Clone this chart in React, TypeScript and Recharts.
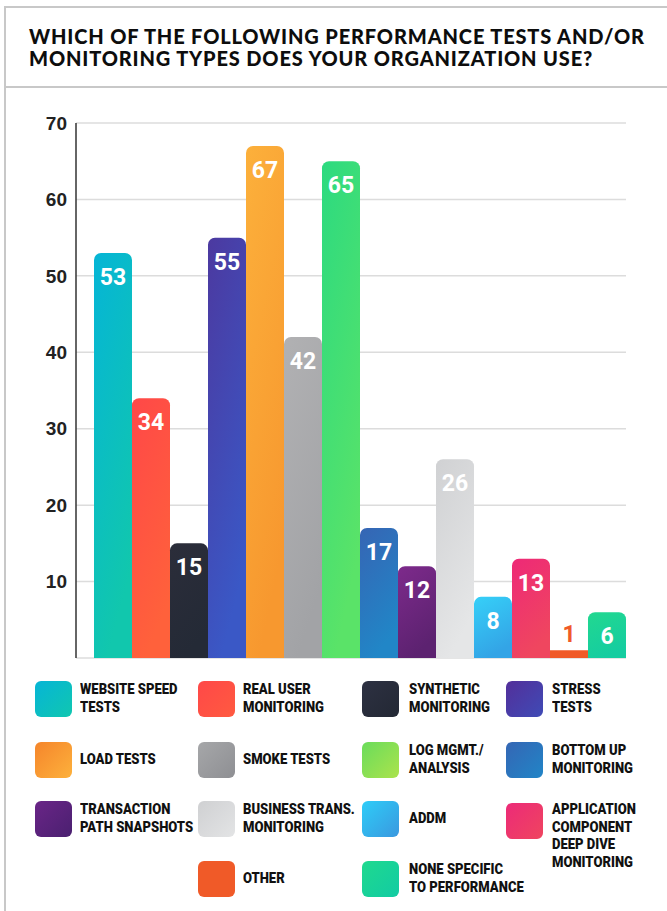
import React from "react";
import { BarChart, Bar, XAxis, YAxis, CartesianGrid, Cell, LabelList, Rectangle } from "recharts";

const categories = [
  "WEBSITE SPEED TESTS",
  "REAL USER MONITORING",
  "SYNTHETIC MONITORING",
  "STRESS TESTS",
  "LOAD TESTS",
  "SMOKE TESTS",
  "LOG MGMT./ ANALYSIS",
  "BOTTOM UP MONITORING",
  "TRANSACTION PATH SNAPSHOTS",
  "BUSINESS TRANS. MONITORING",
  "ADDM",
  "APPLICATION COMPONENT DEEP DIVE MONITORING",
  "OTHER",
  "NONE SPECIFIC TO PERFORMANCE",
];
const values = [53, 34, 15, 55, 67, 42, 65, 17, 12, 26, 8, 13, 1, 6];
const yTicks = [10, 20, 30, 40, 50, 60, 70];
const title = ["WHICH OF THE FOLLOWING PERFORMANCE TESTS AND/OR", "MONITORING TYPES DOES YOUR ORGANIZATION USE?"];

// bar gradients [top, bottom]
const barColors: [string, string][] = [
  ["#05b5d6", "#11c7ad"],
  ["#ff4848", "#ff613b"],
  ["#2b2d3a", "#242a36"],
  ["#4c39a0", "#3a58c6"],
  ["#fcb03b", "#f7982f"],
  ["#b1b1b3", "#a2a3a6"],
  ["#2cda80", "#5ae368"],
  ["#3665b4", "#2186c7"],
  ["#7d2a8b", "#5c2270"],
  ["#d0d1d3", "#e5e6e7"],
  ["#36d0f8", "#33a4e6"],
  ["#ee2977", "#ef465f"],
  ["#f05a28", "#f05a28"],
  ["#22d890", "#15cda0"],
];
// legend swatch gradients [top-left, bottom-right]
const legendColors: [string, string][] = [
  ["#06b5d6", "#10c7b0"],
  ["#ff4848", "#ff5a40"],
  ["#2d3142", "#232834"],
  ["#532f9a", "#3f4bb6"],
  ["#f5852b", "#fdb13c"],
  ["#a6a7a9", "#8e8f93"],
  ["#6adc5b", "#abe34c"],
  ["#3566b4", "#2185c7"],
  ["#6a2587", "#4a2070"],
  ["#cfd0d2", "#e3e4e5"],
  ["#2ecdf8", "#3a98df"],
  ["#ec2a78", "#ef455f"],
  ["#f05a28", "#f05a28"],
  ["#1fd98f", "#12cba3"],
];
// legend grid placement [col,row]
const legendPlace: [number, number][] = [
  [0, 0], [1, 0], [2, 0], [3, 0],
  [0, 1], [1, 1], [2, 1], [3, 1],
  [0, 2], [1, 2], [2, 2], [3, 2],
  [1, 3], [2, 3],
];
const legendLines: string[][] = [
  ["WEBSITE SPEED", "TESTS"],
  ["REAL USER", "MONITORING"],
  ["SYNTHETIC", "MONITORING"],
  ["STRESS", "TESTS"],
  ["LOAD TESTS"],
  ["SMOKE TESTS"],
  ["LOG MGMT./", "ANALYSIS"],
  ["BOTTOM UP", "MONITORING"],
  ["TRANSACTION", "PATH SNAPSHOTS"],
  ["BUSINESS TRANS.", "MONITORING"],
  ["ADDM"],
  ["APPLICATION", "COMPONENT", "DEEP DIVE", "MONITORING"],
  ["OTHER"],
  ["NONE SPECIFIC", "TO PERFORMANCE"],
];

const data = categories.map((c, i) => ({ name: c, value: values[i] }));

const colSwatchX = [35, 198, 362, 506];
const colTextX = [80, 243, 409, 552];
const rowY = [681, 742, 801, 861];

const renderLabel = (props: any) => {
  const { x, y, width, value } = props;
  const cx = Number(x) + Number(width) / 2;
  if (value < 5) {
    return (
      <text x={cx} y={Number(y) - 8} textAnchor="middle" fill="#f05a28"
        style={{ fontFamily: "Roboto, sans-serif", fontWeight: 700, fontSize: 23 }}>
        {value}
      </text>
    );
  }
  return (
    <text x={cx} y={Number(y) + 32} textAnchor="middle" fill="#ffffff"
      style={{ fontFamily: "Roboto, sans-serif", fontWeight: 700, fontSize: 23 }}>
      {value}
    </text>
  );
};

const renderShape = (props: any) => {
  const v = props.payload ? props.payload.value : 10;
  return <Rectangle {...props} radius={v < 3 ? 0 : [7, 7, 0, 0]} />;
};

export default function App() {
  return (
    <div style={{ position: "absolute", left: 0, top: 0, width: 667, height: 911, background: "#fff", overflow: "hidden" }}>
      {/* frame */}
      <div style={{ position: "absolute", left: 4, top: 6, width: 663, height: 2, background: "#c8c8c8" }} />
      <div style={{ position: "absolute", left: 4, top: 86, width: 663, height: 2, background: "#c8c8c8" }} />
      <div style={{ position: "absolute", left: 4, top: 6, width: 2, height: 905, background: "#c8c8c8" }} />
      {/* title */}
      <div style={{ position: "absolute", left: 29, top: 25, fontFamily: "Lato, sans-serif", fontWeight: 900, fontSize: 20, lineHeight: "22px", color: "#0d0d0d", whiteSpace: "nowrap", letterSpacing: 0.85 }}>
        {title.map((t, i) => <div key={i}>{t}</div>)}
      </div>
      <div style={{ position: "absolute", left: 0, top: 0 }}>
        <BarChart width={667} height={680} data={data} margin={{ top: 123, right: 41, bottom: 22, left: 0 }} barCategoryGap={0}>
          <defs>
            {barColors.map((c, i) => (
              <linearGradient key={i} id={`bg${i}`} x1="0" y1="0" x2="0.35" y2="1">
                <stop offset="0%" stopColor={c[0]} />
                <stop offset="100%" stopColor={c[1]} />
              </linearGradient>
            ))}
          </defs>
          <CartesianGrid vertical={false} stroke="#dcdcdc" strokeWidth={1.5} />
          <XAxis dataKey="name" tick={false} tickLine={false} height={0} padding={{ left: 18, right: 0 }} axisLine={{ stroke: "#555", strokeWidth: 1.5 }} />
          <YAxis width={76} domain={[0, 70]} ticks={yTicks} tickLine={false} tickSize={0} tickMargin={9}
            axisLine={{ stroke: "#333", strokeWidth: 1.5 }}
            tick={{ fill: "#222", fontSize: 19, fontWeight: 700, fontFamily: "'Liberation Sans', Arial, sans-serif" }} interval={0} />
          <Bar dataKey="value" isAnimationActive={false} shape={renderShape}>
            {data.map((d, i) => <Cell key={i} fill={`url(#bg${i})`} />)}
            <LabelList dataKey="value" content={renderLabel} />
          </Bar>
        </BarChart>
      </div>
      {/* legend */}
      {categories.map((c, i) => {
        const [col, row] = legendPlace[i];
        const lines = legendLines[i];
        const tall = lines.length > 2;
        return (
          <React.Fragment key={c}>
            <div style={{ position: "absolute", left: colSwatchX[col], top: rowY[row] + (i === 11 ? 2 : 0), width: 37, height: 36, borderRadius: 6,
              background: `linear-gradient(135deg, ${legendColors[i][0]}, ${legendColors[i][1]})` }} />
            <div style={{ position: "absolute", left: colTextX[col], top: tall ? rowY[row] : rowY[row], height: 36, display: "flex", alignItems: tall ? "flex-start" : "center",
              fontFamily: "Roboto, sans-serif", fontWeight: 900, fontSize: 15, lineHeight: "17.6px", color: "#111", whiteSpace: "nowrap",
              transform: "scaleX(0.87)", transformOrigin: "0 0" }}>
              <div>{lines.map((l, k) => <div key={k}>{l}</div>)}</div>
            </div>
          </React.Fragment>
        );
      })}
    </div>
  );
}
